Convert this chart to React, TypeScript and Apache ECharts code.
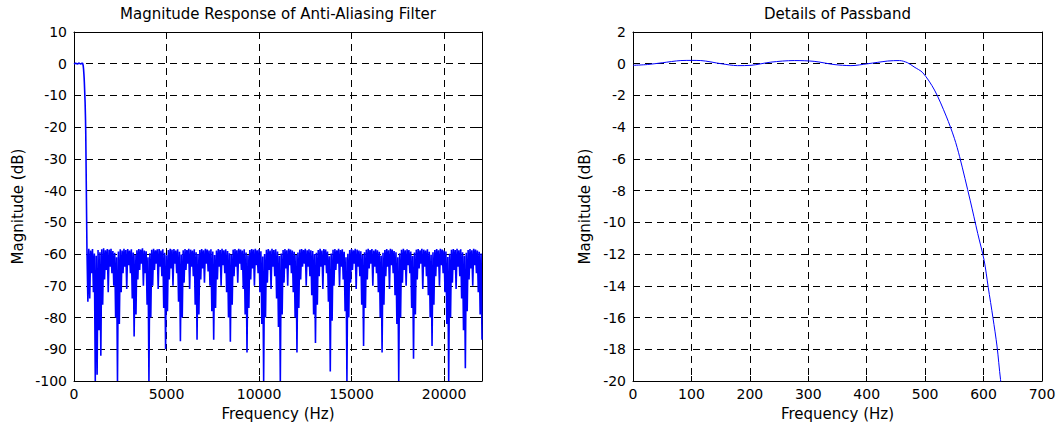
import React, { useEffect, useRef } from "react";
import * as echarts from "echarts";

// ---------- Data ----------
// Passband detail (Hz, dB)
const PASS_FREQ = [0, 25, 50, 82, 100, 116, 151, 179, 202, 236, 276, 310, 344, 373, 402, 436, 456, 470, 481, 496, 516, 536, 550, 559, 577, 590, 601, 608, 616, 623, 629, 634];
const PASS_DB = [-0.1, -0.05, 0.06, 0.2, 0.21, 0.2, 0.0, -0.12, -0.1, 0.1, 0.2, 0.15, -0.05, -0.12, 0.0, 0.17, 0.2, 0.06, -0.2, -0.57, -1.66, -3.3, -4.7, -5.86, -8.6, -10.7, -12.4, -14.1, -16.0, -17.8, -19.9, -21.2];

// Stopband: ripple peaks at 700, 800, ... 22000 Hz; ripple troughs at 750, 850, ... 22050 Hz
const STOP_START = 700;
const STOP_STEP = 100;
const STOP_PEAKS = [
  -58.6, -58.3, -58.9, -58.4, -59.8, -60.5, -58.7, -59.4, -58.5, -58.2,
  -58.8, -58.4, -58.6, -58.3, -59.0, -59.6, -61.0, -59.2, -58.5, -58.9,
  -58.3, -58.7, -58.4, -58.9, -58.5, -59.5, -60.2, -58.8, -58.4, -58.6,
  -58.2, -58.9, -59.1, -61.0, -59.7, -58.6, -58.3, -58.8, -58.5, -58.4,
  -58.9, -58.5, -59.6, -60.4, -58.7, -58.3, -58.6, -58.4, -58.9, -58.5,
  -59.3, -60.1, -58.8, -58.4, -58.7, -58.3, -58.6, -58.9, -58.5, -59.4,
  -60.0, -58.7, -58.4, -58.8, -58.3, -58.6, -58.9, -58.5, -59.2, -60.3,
  -58.9, -58.4, -58.7, -58.3, -58.8, -58.5, -59.0, -59.7, -60.1, -58.6,
  -58.4, -58.8, -58.3, -58.6, -58.9, -58.5, -59.5, -60.4, -58.7, -58.4,
  -58.6, -58.3, -58.8, -58.5, -59.1, -60.8, -60.0, -58.6, -58.4, -58.9,
  -58.3, -58.7, -58.5, -59.2, -60.6, -59.8, -58.7, -58.4, -58.8, -58.3,
  -58.6, -58.9, -59.3, -60.3, -59.5, -58.6, -58.4, -58.7, -58.3, -58.8,
  -58.5, -58.8, -59.0, -60.0, -59.6, -58.7, -58.3, -58.9, -58.4, -58.6,
  -59.2, -60.7, -59.8, -58.6, -58.4, -58.8, -58.3, -58.7, -58.5, -59.3,
  -61.0, -59.9, -58.7, -58.4, -58.8, -58.3, -58.6, -58.9, -59.1, -60.2,
  -59.4, -58.6, -58.3, -58.7, -58.4, -58.9, -58.5, -58.8, -59.3, -60.5,
  -59.6, -58.7, -58.4, -58.8, -58.3, -58.6, -59.0, -59.4, -61.0, -59.7,
  -58.6, -58.3, -58.8, -58.5, -58.7, -59.2, -60.6, -59.5, -58.6, -58.4,
  -58.8, -58.3, -58.6, -58.9, -58.5, -59.3, -60.2, -59.4, -58.7, -58.4,
  -58.8, -58.3, -58.6, -58.9, -59.2, -60.9, -59.9, -58.6, -58.4, -58.7,
  -58.3, -58.8, -58.5, -59.4, -60.5, -59.6, -58.7, -58.4, -58.8, -58.3,
  -58.6, -58.9, -59.3, -59.8,
];
const STOP_TROUGHS = [
  -75, -74, -66, -72, -100, -98, -84, -92, -76, -68,
  -65, -72, -64, -66, -70, -80, -100, -82, -72, -66,
  -64, -71, -63.5, -66, -74, -86, -79, -68, -65, -63,
  -70, -66, -76, -100, -80, -70, -65, -63, -71, -64,
  -67, -77, -90, -78, -68, -64.5, -70, -63, -66, -75,
  -87.5, -80, -69, -65, -63, -71, -64, -67, -76, -87,
  -79, -68, -64.5, -69, -63, -65.5, -70, -78, -87, -77,
  -68, -64, -70, -63.5, -66, -72, -80, -87.6, -76, -67,
  -64, -69, -63, -65, -71, -79, -91, -77, -68, -64.5,
  -70, -63.5, -66, -72, -82, -100, -80, -69, -65, -71,
  -64, -67, -74, -83, -100, -79, -69, -64.5, -70, -63.5,
  -66, -72, -80, -91, -77, -68, -64, -63, -70, -64,
  -67, -73, -79, -88, -76, -67, -64, -71, -63.5, -66,
  -75, -97, -81, -70, -65, -63, -70, -64, -68, -78,
  -100, -80, -69, -65, -63, -71, -64, -67, -76, -89,
  -77, -68, -64.5, -63, -70, -64, -66, -72, -80, -91,
  -76, -67, -64, -71, -63.5, -66, -73, -82, -100, -80,
  -69, -65, -70, -63.5, -66, -77, -93, -79, -68, -64.5,
  -63, -71, -64, -67, -73, -80, -89, -76, -67, -64,
  -70, -63.5, -66, -72, -82, -100, -80, -69, -65, -71,
  -64, -67, -74, -84, -96, -78, -68, -64.5, -70, -63.5,
  -66, -72, -79, -87,
];

// Axis settings (tick labels come from these)
const LEFT_X = { min: 0, max: 22050, interval: 5000 };
const LEFT_Y = { min: -100, max: 10, interval: 10 };
const RIGHT_X = { min: 0, max: 700, interval: 100 };
const RIGHT_Y = { min: -20, max: 2, interval: 2 };

const TITLES = ["Magnitude Response of Anti-Aliasing Filter", "Details of Passband"];
const X_NAME = "Frequency (Hz)";
const Y_NAME = "Magnitude (dB)";

// ---------- Component ----------
const FONT = "DejaVu Sans";
const BLUE = "#0000ff";

function buildLeftData(): number[][] {
  const out: number[][] = [];
  for (let i = 0; i < PASS_FREQ.length; i++) out.push([PASS_FREQ[i], PASS_DB[i]]);
  const n = Math.min(STOP_PEAKS.length, STOP_TROUGHS.length);
  for (let i = 0; i < n; i++) {
    const f = STOP_START + STOP_STEP * i;
    out.push([f, STOP_PEAKS[i]]);
    out.push([f + STOP_STEP / 2, STOP_TROUGHS[i]]);
  }
  return out;
}

function buildRightData(): number[][] {
  return PASS_FREQ.map((f, i) => [f, PASS_DB[i]]);
}

export default function App() {
  const ref = useRef<HTMLDivElement>(null);

  useEffect(() => {
    if (!ref.current) return;
    const chart = echarts.init(ref.current, undefined, { renderer: "svg" });

    const line = { show: true, onZero: false, lineStyle: { color: "#000", width: 1 } };
    const tick = { show: true, inside: true, length: 5, lineStyle: { color: "#000", width: 1 } };
    const label = { color: "#000", fontFamily: FONT, fontSize: 14, formatter: (v: number) => String(v) };
    const split = { show: true, lineStyle: { color: "#000", width: 1, type: [7, 5] } };

    const mainX = (grid: number, r: any) => ({
      type: "value", gridIndex: grid, position: "bottom", ...r,
      axisLine: line, axisTick: tick, splitLine: split,
      axisLabel: { ...label, margin: 6, showMaxLabel: grid === 1 },
    });
    const secX = (grid: number, r: any) => ({
      type: "value", gridIndex: grid, position: "top", ...r,
      axisLine: line, axisTick: tick, splitLine: { show: false }, axisLabel: { show: false },
    });
    const mainY = (grid: number, r: any) => ({
      type: "value", gridIndex: grid, position: "left", ...r,
      axisLine: line, axisTick: tick, splitLine: split,
      axisLabel: { ...label, margin: 7 },
    });
    const secY = (grid: number, r: any) => ({
      type: "value", gridIndex: grid, position: "right", ...r,
      axisLine: line, axisTick: tick, splitLine: { show: false }, axisLabel: { show: false },
    });

    const txt = (text: string, x: number, y: number, rot = 0) => ({
      type: "text", x, y, rotation: rot, silent: true,
      style: { text, fill: "#000", font: `15px '${FONT}'`, textAlign: "center", textVerticalAlign: "middle" },
    });

    chart.setOption({
      animation: false,
      backgroundColor: "#fff",
      grid: [
        { left: 74, top: 32, width: 408, height: 349 },
        { left: 633, top: 32, width: 409, height: 349 },
      ],
      xAxis: [mainX(0, LEFT_X), secX(0, LEFT_X), mainX(1, RIGHT_X), secX(1, RIGHT_X)],
      yAxis: [mainY(0, LEFT_Y), secY(0, LEFT_Y), mainY(1, RIGHT_Y), secY(1, RIGHT_Y)],
      series: [
        {
          type: "line", xAxisIndex: 0, yAxisIndex: 0, data: buildLeftData(),
          showSymbol: false, symbol: "none", clip: true,
          lineStyle: { color: BLUE, width: 1.6 }, itemStyle: { color: BLUE },
          emphasis: { disabled: true },
        },
        {
          type: "line", xAxisIndex: 2, yAxisIndex: 2, data: buildRightData(),
          showSymbol: false, symbol: "none", clip: true, smooth: 0.3,
          lineStyle: { color: BLUE, width: 1 }, itemStyle: { color: BLUE },
          emphasis: { disabled: true },
        },
      ],
      graphic: [
        txt(TITLES[0], 278, 14),
        txt(TITLES[1], 837.5, 14),
        txt(X_NAME, 278, 413.5),
        txt(X_NAME, 837.5, 413.5),
        txt(Y_NAME, 17.5, 206.5, Math.PI / 2),
        txt(Y_NAME, 585, 206.5, Math.PI / 2),
      ],
    });

    return () => chart.dispose();
  }, []);

  return (
    <div
      ref={ref}
      style={{ position: "fixed", left: 0, top: 0, width: 1060, height: 427, background: "#fff" }}
    />
  );
}
